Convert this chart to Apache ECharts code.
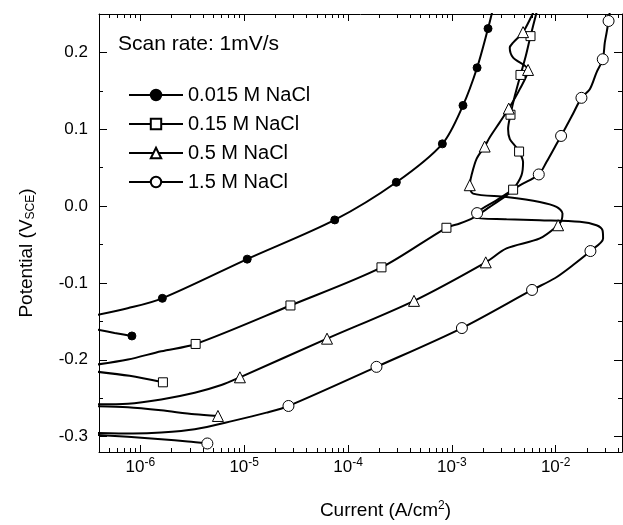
<!DOCTYPE html>
<html>
<head>
<meta charset="utf-8">
<title>Polarization curves in NaCl</title>
<script src="https://cdn.jsdelivr.net/npm/echarts@6/dist/echarts.min.js"></script>
<style>
  html, body { margin: 0; padding: 0; background: #fff; }
  #main { width: 623px; height: 525px; }
</style>
</head>
<body>
<div id="main"></div>
<script>
// current density (A/cm2), potential (V vs SCE)
var names = ['0.015 M NaCl', '0.15 M NaCl', '0.5 M NaCl', '1.5 M NaCl'];

// 0.015 M
var anodic015 = [[3.9e-7,-0.1415],[7.55e-7,-0.133],[1.63e-6,-0.120],[1.07e-5,-0.069],[7.45e-5,-0.018],
  [2.92e-4,0.031],[8.1e-4,0.081],[1.28e-3,0.131],[1.75e-3,0.180],[2.23e-3,0.231],[2.45e-3,0.253]];
var cathodic015 = [[3.9e-7,-0.161],[5.65e-7,-0.165],[8.3e-7,-0.169]];
var marks015 = [[8.3e-7,-0.169],[1.63e-6,-0.120],[1.07e-5,-0.069],[7.45e-5,-0.018],[2.92e-4,0.031],
  [8.1e-4,0.081],[1.28e-3,0.131],[1.75e-3,0.180],[2.23e-3,0.231]];

// 0.15 M
var anodic15 = [[3.9e-7,-0.206],[7.6e-7,-0.1997],[1.59e-6,-0.1889],[3.41e-6,-0.1794],[2.79e-5,-0.1293],
  [2.10e-4,-0.0797],[8.87e-4,-0.0282],[1.19e-3,-0.0227],[1.60e-3,-0.0153],[2.32e-3,-0.001],[3.36e-3,0.014],
  [3.89e-3,0.0214],[4.68e-3,0.0399],[4.85e-3,0.0573],[4.44e-3,0.071],[4.04e-3,0.0788],[3.61e-3,0.0874],
  [3.48e-3,0.1004],[3.67e-3,0.1189],[4.04e-3,0.1435],[4.58e-3,0.1707],[5.15e-3,0.1953],[5.72e-3,0.2212],
  [6.53e-3,0.2516]];
var cathodic15 = [[3.9e-7,-0.2157],[7.89e-7,-0.2209],[1.65e-6,-0.2293]];
var marks15 = [[1.65e-6,-0.2293],[3.41e-6,-0.1794],[2.79e-5,-0.1293],[2.10e-4,-0.0797],[8.87e-4,-0.0282],
  [3.89e-3,0.0214],[4.44e-3,0.071],[3.67e-3,0.1189],[4.58e-3,0.1707],[5.72e-3,0.2212]];

// 0.5 M
var anodic5 = [[3.9e-7,-0.2578],[7.6e-7,-0.2571],[1.59e-6,-0.2516],[3.34e-6,-0.2429],[6.03e-6,-0.2329],
  [9.1e-6,-0.2228],[6.28e-5,-0.1725],[4.32e-4,-0.1233],[2.12e-3,-0.0732],[3.36e-3,-0.0551],[7.03e-3,-0.0421],
  [1.055e-2,-0.0249],[1.14e-2,-0.0184],[1.163e-2,-0.0097],[1.018e-2,-0.001],[7.03e-3,0.0054],[3.36e-3,0.0119],
  [1.60e-3,0.0162],[1.488e-3,0.0272],[1.545e-3,0.0399],[1.73e-3,0.0615],[2.07e-3,0.0775],[2.32e-3,0.0896],
  [2.89e-3,0.109],[3.53e-3,0.1269],[4.51e-3,0.1522],[5.42e-3,0.1772],[3.89e-3,0.1933],[3.61e-3,0.2062],
  [3.89e-3,0.2127],[4.85e-3,0.2264],[6.08e-3,0.252]];
var cathodic5 = [[3.9e-7,-0.2604],[7.6e-7,-0.2617],[1.59e-6,-0.2658],[3.34e-6,-0.271],[5.59e-6,-0.2731]];
var marks5 = [[5.59e-6,-0.2731],[9.1e-6,-0.2228],[6.28e-5,-0.1725],[4.32e-4,-0.1233],[2.12e-3,-0.0732],
  [1.055e-2,-0.0249],[1.488e-3,0.0272],[2.07e-3,0.0775],[3.53e-3,0.1269],[5.42e-3,0.1772],[4.85e-3,0.2264]];

// 1.5 M
var anodic1_5 = [[3.9e-7,-0.2953],[8.49e-7,-0.296],[1.59e-6,-0.2947],[3.34e-6,-0.2904],[7.8e-6,-0.2795],
  [1.64e-5,-0.2688],[2.67e-5,-0.2601],[1.88e-4,-0.2092],[1.25e-3,-0.1587],[5.92e-3,-0.1091],[9.8e-3,-0.0939],
  [1.47e-2,-0.0767],[2.16e-2,-0.0585],[2.86e-2,-0.0421],[2.82e-2,-0.0313],[2.47e-2,-0.0249],[1.71e-2,-0.0205],
  [7.03e-3,-0.0184],[3.36e-3,-0.0171],[1.73e-3,-0.0153],[1.75e-3,-0.0091],[2.69e-3,0.0075],[4.51e-3,0.0269],
  [6.87e-3,0.0412],[8.15e-3,0.0573],[9.8e-3,0.0767],[1.127e-2,0.0913],[1.43e-2,0.1172],[1.77e-2,0.1409],
  [2.13e-2,0.1522],[2.47e-2,0.1738],[2.84e-2,0.1911],[2.97e-2,0.2127],[3.09e-2,0.2256],[3.23e-2,0.2409],
  [3.32e-2,0.2532]];
var cathodic1_5 = [[3.9e-7,-0.2979],[7.6e-7,-0.3003],[1.59e-6,-0.3034],[2.87e-6,-0.3063],[4.42e-6,-0.3089]];
var marks1_5 = [[4.42e-6,-0.3089],[2.67e-5,-0.2601],[1.88e-4,-0.2092],[1.25e-3,-0.1587],[5.92e-3,-0.1091],
  [2.16e-2,-0.0585],[1.75e-3,-0.0091],[6.87e-3,0.0412],[1.127e-2,0.0913],[1.77e-2,0.1409],[2.84e-2,0.1911],
  [3.23e-2,0.2409]];

// axes
var xRange = [4.0e-7, 4.35e-2];
var yRange = [-0.32, 0.25];
var xMajor = [1e-6, 1e-5, 1e-4, 1e-3, 1e-2];
var yMajor = [-0.3, -0.2, -0.1, 0, 0.1, 0.2];
var yMinor = [-0.25, -0.15, -0.05, 0.05, 0.15, 0.25];

var FONT = '"Liberation Sans", Arial, Helvetica, sans-serif';

(function () {
    var myChart = echarts.init(document.getElementById('main'));

    function lg(v) { return Math.log10(v); }
    function toLog(arr) { return arr.map(function (p) { return [lg(p[0]), p[1]]; }); }

    // minor ticks 2..9 in every decade
    var xMinor = [];
    for (var e = -7; e <= -2; e++) {
        for (var k = 2; k <= 9; k++) {
            var v = k * Math.pow(10, e);
            if (v > xRange[0] && v < xRange[1]) xMinor.push(lg(v));
        }
    }
    var xMajorLog = xMajor.map(lg);

    function tickAxis(pos, values, len, isX) {
        return {
            type: 'value',
            position: pos,
            min: isX ? lg(xRange[0]) : yRange[0],
            max: isX ? lg(xRange[1]) : yRange[1],
            axisLine: {show: false, onZero: false},
            axisTick: {show: true, inside: true, length: len, customValues: values,
                lineStyle: {color: '#000', width: 1}},
            axisLabel: {show: false},
            splitLine: {show: false}
        };
    }
    var frameLine = {show: true, onZero: false, lineStyle: {color: '#000', width: 1}};

    var xMain = tickAxis('bottom', xMajorLog, 7, true);
    xMain.axisLine = frameLine;
    xMain.axisLabel = {
        show: true, customValues: xMajorLog, margin: 5,
        formatter: function (v) { return '{b|10}{s|' + Math.round(v) + '}'; },
        rich: {
            b: {fontSize: 17, fontFamily: FONT, color: '#000'},
            s: {fontSize: 12, fontFamily: FONT, color: '#000', padding: [0, 0, 8, 0]}
        }
    };
    xMain.name = '{a|Current (A/cm}{s|2}{a|)}';
    xMain.nameLocation = 'middle';
    xMain.nameGap = 48;
    xMain.nameTextStyle = {
        padding: [0, 0, 0, 50],
        rich: {
            a: {fontSize: 19, fontFamily: FONT, color: '#000'},
            s: {fontSize: 12, fontFamily: FONT, color: '#000', padding: [0, 0, 9, 0]}
        }
    };

    var xTop = tickAxis('top', xMajorLog, 7, true);
    xTop.axisLine = frameLine;

    var yMain = tickAxis('left', yMajor, 8, false);
    yMain.axisLine = frameLine;
    yMain.axisLabel = {
        show: true, customValues: yMajor, margin: 11,
        fontSize: 17, fontFamily: FONT, color: '#000',
        formatter: function (v) { return v.toFixed(1); }
    };
    yMain.name = '{a|Potential (V}{s|SCE}{a|)}';
    yMain.nameLocation = 'middle';
    yMain.nameGap = 62;
    yMain.nameTextStyle = {
        padding: [0, 40, 0, 0],
        rich: {
            a: {fontSize: 19, fontFamily: FONT, color: '#000'},
            s: {fontSize: 12, fontFamily: FONT, color: '#000', padding: [9, 0, 0, 0]}
        }
    };

    var yRight = tickAxis('right', yMajor, 8, false);
    yRight.axisLine = frameLine;

    var styles = [
        {symbol: 'circle', plotSize: 8, legendFill: '#000'},
        {symbol: 'rect', plotSize: 9, legendFill: '#fff'},
        {symbol: 'triangle', plotSize: 11, legendFill: '#fff'},
        {symbol: 'circle', plotSize: 11, legendFill: '#fff'}
    ];
    var anodic = [anodic015, anodic15, anodic5, anodic1_5];
    var cathodic = [cathodic015, cathodic15, cathodic5, cathodic1_5];
    var marks = [marks015, marks15, marks5, marks1_5];

    var series = [];
    names.forEach(function (name, i) {
        var st = styles[i];
        var line = {
            name: name, type: 'line', smooth: 0.3, showSymbol: false,
            symbol: st.symbol, symbolSize: st.plotSize,
            lineStyle: {color: '#000', width: 2},
            itemStyle: {color: st.legendFill, borderColor: '#000', borderWidth: 1},
            emphasis: {disabled: true}, z: 2
        };
        series.push(Object.assign({}, line, {data: toLog(anodic[i])}));
        series.push(Object.assign({}, line, {data: toLog(cathodic[i])}));
        series.push({
            name: name, type: 'scatter', data: toLog(marks[i]),
            symbol: st.symbol, symbolSize: st.plotSize,
            itemStyle: {color: st.legendFill, borderColor: '#000', borderWidth: 1, opacity: 1},
            emphasis: {disabled: true}, z: 3
        });
    });

    var option = {
        animation: false,
        backgroundColor: '#fff',
        title: {
            text: 'Scan rate: 1mV/s', left: 118, top: 34, padding: 0,
            textStyle: {fontSize: 21, fontWeight: 'normal', fontFamily: FONT, color: '#000'}
        },
        legend: {
            data: names, orient: 'vertical', left: 128, top: 85,
            itemWidth: 54, itemHeight: 13, itemGap: 9, padding: 0,
            selectedMode: false,
            textStyle: {fontSize: 20, fontFamily: FONT, color: '#000'}
        },
        grid: {left: 99, right: 1, top: 14, bottom: 71, containLabel: false},
        xAxis: [xMain, tickAxis('bottom', xMinor, 4, true), xTop, tickAxis('top', xMinor, 4, true)],
        yAxis: [yMain, tickAxis('left', yMinor, 4, false), yRight, tickAxis('right', yMinor, 4, false)],
        series: series
    };

    myChart.setOption(option);

    window.addEventListener('resize', function () {
        myChart.resize();
    });
})();
</script>
</body>
</html>
